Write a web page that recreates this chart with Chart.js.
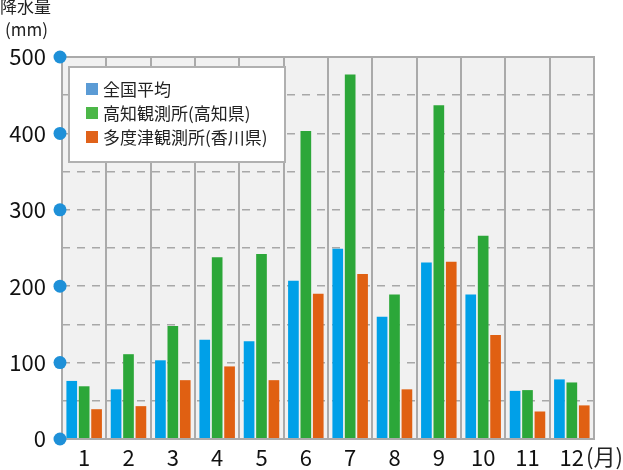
<!DOCTYPE html>
<html>
<head>
<meta charset="utf-8">
<script src="https://cdn.jsdelivr.net/npm/chart.js@4"></script>
<style>
  html, body { margin: 0; padding: 0; background: #fff; }
  #wrap { width: 623px; height: 470px; position: relative; }
</style>
</head>
<body>
<div id="wrap"><canvas id="graficoLluvia"></canvas></div>
<script>
const meses = ['1', '2', '3', '4', '5', '6', '7', '8', '9', '10', '11', '12'];
const promedioNacional = [76, 65, 103, 130, 128, 207, 249, 160, 231, 189, 63, 78];
const kochi = [69, 111, 148, 238, 242, 403, 477, 189, 437, 266, 64, 74];
const tadotsu = [39, 43, 77, 95, 77, 190, 216, 65, 232, 136, 36, 44];
const nombresSeries = ['全国平均', '高知観測所(高知県)', '多度津観測所(香川県)'];
const yTicks = [0, 100, 200, 300, 400, 500];

const fuente = "'Noto Sans CJK JP', 'Noto Sans', sans-serif";
const coloresBarra = ['#00a0e8', '#2ca739', '#e06012'];
const coloresLeyenda = ['#5b9bd5', '#4cb748', '#e0621a'];

// fondo gris, marco, puntos azules, titulos y leyenda
const extras = {
    id: 'extras',
    beforeDraw(chart) {
        const a = chart.chartArea, ctx = chart.ctx;
        ctx.save();
        ctx.fillStyle = '#f1f1f1';
        ctx.fillRect(a.left, a.top, a.right - a.left, a.bottom - a.top);
        ctx.restore();
    },
    afterDatasetsDraw(chart) {
        const a = chart.chartArea, ctx = chart.ctx, y = chart.scales.y;
        ctx.save();
        // marco
        ctx.strokeStyle = '#aaaaaa';
        ctx.lineWidth = 2;
        ctx.beginPath();
        ctx.moveTo(a.left, a.bottom);
        ctx.lineTo(a.left, a.top);
        ctx.lineTo(a.right, a.top);
        ctx.lineTo(a.right, a.bottom);
        ctx.lineTo(a.left, a.bottom);
        ctx.stroke();

        // puntos en el eje y
        ctx.fillStyle = '#1e90d8';
        yTicks.forEach(v => {
            ctx.beginPath();
            ctx.arc(a.left - 2, y.getPixelForValue(v), 6.5, 0, Math.PI * 2);
            ctx.fill();
        });

        // titulo del eje y
        ctx.fillStyle = '#222';
        ctx.textBaseline = 'top';
        ctx.textAlign = 'left';
        ctx.font = '17px ' + fuente;
        ctx.fillText('降水量', 0, -2);
        ctx.fillText('(mm)', 5, 21);

        // unidad del eje x
        ctx.font = '22px ' + fuente;
        ctx.textBaseline = 'middle';
        ctx.fillText('(月)', 586, 457);

        // leyenda
        const lx = 69, ly = 67, lw = 216, lh = 95;
        ctx.fillStyle = '#ffffff';
        ctx.fillRect(lx, ly, lw, lh);
        ctx.strokeStyle = '#b0b0b0';
        ctx.lineWidth = 2;
        ctx.strokeRect(lx, ly, lw, lh);
        ctx.font = '17px ' + fuente;
        chart.data.datasets.forEach((ds, i) => {
            const cy = 89 + i * 24;
            ctx.fillStyle = coloresLeyenda[i];
            ctx.fillRect(86, cy - 6, 12, 12);
            ctx.fillStyle = '#222';
            ctx.fillText(ds.label, 103, cy + 1);
        });
        ctx.restore();
    }
};

const ctx = document.getElementById('graficoLluvia').getContext('2d');
new Chart(ctx, {
    type: 'bar',
    data: {
        labels: meses,
        datasets: [
            { label: nombresSeries[0], data: promedioNacional, backgroundColor: coloresBarra[0] },
            { label: nombresSeries[1], data: kochi, backgroundColor: coloresBarra[1] },
            { label: nombresSeries[2], data: tadotsu, backgroundColor: coloresBarra[2] }
        ]
    },
    options: {
        responsive: true,
        maintainAspectRatio: false,
        animation: false,
        layout: { padding: { top: 57, right: 29, left: 0, bottom: 0 } },
        categoryPercentage: 0.84,
        barPercentage: 0.86,
        plugins: {
            legend: { display: false },
            tooltip: { enabled: false }
        },
        scales: {
            x: {
                grid: { color: '#aaaaaa', lineWidth: 2, drawTicks: false, offset: true },
                border: { display: false },
                ticks: {
                    color: '#111',
                    padding: 5,
                    font: { family: fuente, size: 22 }
                },
                afterFit: scale => { scale.height = 31; }
            },
            y: {
                min: 0,
                max: 500,
                grid: {
                    color: ctx => (ctx.tick && (ctx.tick.value === 0 || ctx.tick.value === 500)) ? 'rgba(0,0,0,0)' : '#a8a8a8',
                    lineWidth: 1.5,
                    drawTicks: false
                },
                border: { display: false, dash: [8, 7] },
                ticks: {
                    stepSize: 50,
                    color: '#111',
                    padding: 16,
                    font: { family: fuente, size: 22 },
                    callback: v => (yTicks.includes(v) ? v : '')
                },
                afterFit: scale => { scale.width = 62; }
            }
        }
    },
    plugins: [extras]
});
</script>
</body>
</html>
